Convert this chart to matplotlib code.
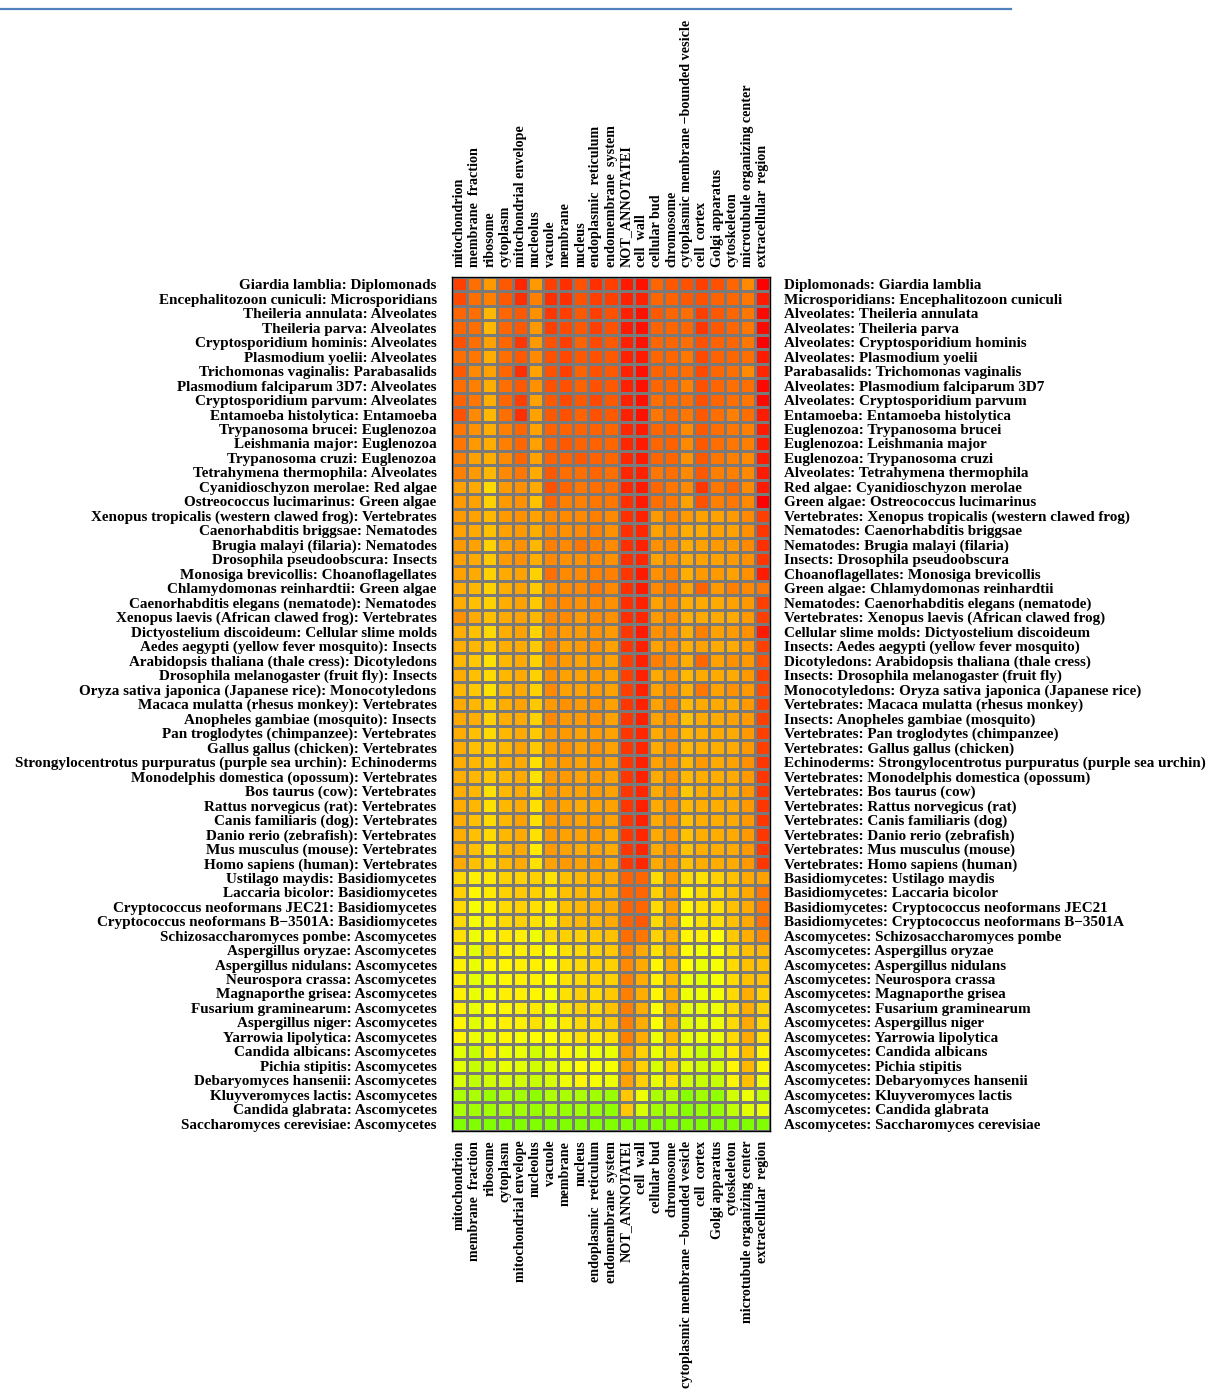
import numpy as np
import matplotlib.pyplot as plt
from matplotlib.colors import LinearSegmentedColormap
from matplotlib.lines import Line2D

plt.rcParams['font.family'] = ['Liberation Serif', 'DejaVu Serif']
plt.rcParams['font.weight'] = 'bold'

# --- dados ---
compartments = [
    "mitochondrion", "membrane  fraction", "ribosome", "cytoplasm",
    "mitochondrial envelope", "nucleolus", "vacuole", "membrane", "nucleus",
    "endoplasmic  reticulum", "endomembrane  system", "NOT_ANNOTATEI",
    "cell  wall", "cellular bud", "chromosome",
    "cytoplasmic membrane \u2212bounded vesicle", "cell  cortex",
    "Golgi apparatus", "cytoskeleton", "microtubule organizing center",
    "extracellular  region",
]

species = [
    "Giardia lamblia", "Encephalitozoon cuniculi", "Theileria annulata",
    "Theileria parva", "Cryptosporidium hominis", "Plasmodium yoelii",
    "Trichomonas vaginalis", "Plasmodium falciparum 3D7",
    "Cryptosporidium parvum", "Entamoeba histolytica", "Trypanosoma brucei",
    "Leishmania major", "Trypanosoma cruzi", "Tetrahymena thermophila",
    "Cyanidioschyzon merolae", "Ostreococcus lucimarinus",
    "Xenopus tropicalis (western clawed frog)", "Caenorhabditis briggsae",
    "Brugia malayi (filaria)", "Drosophila pseudoobscura",
    "Monosiga brevicollis", "Chlamydomonas reinhardtii",
    "Caenorhabditis elegans (nematode)", "Xenopus laevis (African clawed frog)",
    "Dictyostelium discoideum", "Aedes aegypti (yellow fever mosquito)",
    "Arabidopsis thaliana (thale cress)", "Drosophila melanogaster (fruit fly)",
    "Oryza sativa japonica (Japanese rice)", "Macaca mulatta (rhesus monkey)",
    "Anopheles gambiae (mosquito)", "Pan troglodytes (chimpanzee)",
    "Gallus gallus (chicken)",
    "Strongylocentrotus purpuratus (purple sea urchin)",
    "Monodelphis domestica (opossum)", "Bos taurus (cow)",
    "Rattus norvegicus (rat)", "Canis familiaris (dog)",
    "Danio rerio (zebrafish)", "Mus musculus (mouse)", "Homo sapiens (human)",
    "Ustilago maydis", "Laccaria bicolor", "Cryptococcus neoformans JEC21",
    "Cryptococcus neoformans B\u22123501A", "Schizosaccharomyces pombe",
    "Aspergillus oryzae", "Aspergillus nidulans", "Neurospora crassa",
    "Magnaporthe grisea", "Fusarium graminearum", "Aspergillus niger",
    "Yarrowia lipolytica", "Candida albicans", "Pichia stipitis",
    "Debaryomyces hansenii", "Kluyveromyces lactis", "Candida glabrata",
    "Saccharomyces cerevisiae",
]

groups = [
    "Diplomonads", "Microsporidians", "Alveolates", "Alveolates", "Alveolates",
    "Alveolates", "Parabasalids", "Alveolates", "Alveolates", "Entamoeba",
    "Euglenozoa", "Euglenozoa", "Euglenozoa", "Alveolates", "Red algae",
    "Green algae", "Vertebrates", "Nematodes", "Nematodes", "Insects",
    "Choanoflagellates", "Green algae", "Nematodes", "Vertebrates",
    "Cellular slime molds", "Insects", "Dicotyledons", "Insects",
    "Monocotyledons", "Vertebrates", "Insects", "Vertebrates", "Vertebrates",
    "Echinoderms", "Vertebrates", "Vertebrates", "Vertebrates", "Vertebrates",
    "Vertebrates", "Vertebrates", "Vertebrates", "Basidiomycetes",
    "Basidiomycetes", "Basidiomycetes", "Basidiomycetes", "Ascomycetes",
    "Ascomycetes", "Ascomycetes", "Ascomycetes", "Ascomycetes", "Ascomycetes",
    "Ascomycetes", "Ascomycetes", "Ascomycetes", "Ascomycetes", "Ascomycetes",
    "Ascomycetes", "Ascomycetes", "Ascomycetes",
]

# escala 0 (vermelho) .. 60 (amarelo) .. 90 (verde)
scores = [
    [15, 26, 36, 21, 9, 36, 15, 11, 19, 11, 15, 6, 4, 24, 21, 19, 15, 19, 24, 32, 0],
    [17, 26, 30, 21, 11, 30, 11, 11, 19, 15, 15, 8, 8, 24, 23, 21, 19, 23, 24, 28, 6],
    [24, 26, 43, 24, 21, 34, 13, 15, 21, 15, 19, 8, 4, 21, 24, 26, 15, 21, 24, 28, 2],
    [24, 26, 43, 24, 21, 36, 15, 17, 21, 15, 19, 6, 4, 23, 24, 24, 13, 21, 24, 28, 2],
    [19, 26, 38, 24, 13, 36, 19, 15, 23, 17, 21, 8, 4, 24, 24, 26, 19, 23, 24, 28, 0],
    [26, 28, 41, 26, 21, 32, 19, 17, 21, 19, 21, 8, 6, 24, 24, 28, 17, 23, 24, 26, 6],
    [21, 32, 38, 24, 11, 38, 19, 15, 23, 19, 21, 8, 4, 23, 24, 26, 17, 24, 26, 32, 9],
    [26, 30, 41, 26, 21, 34, 19, 19, 23, 19, 21, 8, 4, 24, 24, 30, 19, 24, 26, 26, 2],
    [23, 28, 41, 24, 15, 38, 21, 17, 21, 17, 21, 8, 4, 26, 24, 26, 19, 24, 26, 28, 2],
    [19, 32, 43, 26, 11, 38, 21, 19, 23, 19, 21, 8, 4, 28, 24, 28, 21, 26, 30, 26, 6],
    [28, 34, 41, 30, 24, 38, 23, 23, 23, 23, 24, 9, 6, 24, 23, 32, 21, 26, 28, 30, 6],
    [28, 36, 41, 30, 24, 38, 23, 21, 23, 23, 24, 9, 6, 24, 23, 32, 21, 26, 28, 30, 6],
    [30, 38, 41, 32, 24, 38, 23, 23, 21, 23, 24, 9, 6, 24, 24, 34, 21, 28, 30, 32, 6],
    [30, 36, 43, 32, 28, 40, 21, 26, 26, 24, 26, 9, 8, 28, 26, 32, 21, 30, 30, 32, 6],
    [38, 40, 51, 36, 34, 40, 19, 24, 28, 26, 26, 9, 6, 24, 28, 32, 13, 28, 24, 32, 6],
    [36, 38, 49, 36, 34, 45, 24, 30, 30, 28, 28, 11, 6, 26, 28, 38, 19, 30, 28, 32, 0],
    [36, 38, 43, 36, 34, 38, 32, 32, 32, 30, 32, 11, 8, 36, 30, 36, 38, 38, 36, 32, 15],
    [38, 40, 45, 38, 36, 41, 32, 34, 32, 30, 34, 11, 9, 38, 34, 41, 40, 38, 38, 34, 13],
    [36, 38, 49, 38, 34, 43, 30, 32, 28, 30, 32, 11, 8, 34, 32, 40, 38, 36, 36, 32, 11],
    [38, 40, 47, 36, 34, 41, 32, 34, 34, 32, 34, 11, 9, 38, 34, 40, 38, 38, 36, 34, 13],
    [38, 40, 49, 40, 38, 49, 26, 32, 32, 30, 30, 13, 6, 34, 30, 41, 36, 36, 38, 34, 6],
    [41, 43, 49, 41, 38, 47, 34, 32, 32, 28, 32, 11, 6, 32, 28, 38, 23, 36, 30, 32, 28],
    [41, 45, 49, 41, 38, 47, 32, 32, 34, 32, 34, 11, 8, 38, 32, 41, 40, 40, 38, 36, 15],
    [34, 40, 45, 40, 38, 43, 32, 32, 36, 32, 34, 11, 9, 36, 32, 41, 40, 40, 40, 36, 15],
    [41, 45, 51, 41, 38, 49, 34, 36, 36, 34, 36, 13, 6, 34, 32, 41, 30, 38, 36, 34, 6],
    [41, 43, 47, 41, 40, 47, 32, 38, 36, 34, 38, 13, 8, 38, 34, 41, 38, 40, 40, 36, 15],
    [43, 47, 53, 43, 40, 49, 34, 36, 38, 36, 38, 15, 8, 30, 32, 41, 24, 38, 34, 36, 19],
    [41, 45, 51, 43, 40, 49, 34, 38, 38, 36, 38, 15, 8, 40, 34, 43, 40, 40, 40, 36, 15],
    [43, 47, 53, 43, 40, 49, 32, 38, 38, 36, 38, 15, 8, 38, 32, 41, 28, 38, 34, 36, 17],
    [40, 43, 49, 41, 38, 47, 36, 34, 36, 34, 38, 13, 8, 38, 30, 43, 40, 40, 40, 36, 15],
    [40, 41, 49, 41, 40, 49, 32, 36, 36, 34, 38, 13, 8, 38, 34, 45, 40, 40, 38, 36, 15],
    [41, 45, 51, 43, 40, 47, 36, 36, 38, 36, 38, 13, 9, 40, 34, 43, 41, 40, 40, 36, 15],
    [41, 45, 47, 43, 38, 47, 36, 34, 38, 34, 38, 13, 9, 40, 34, 43, 41, 41, 40, 36, 15],
    [41, 43, 47, 41, 40, 53, 38, 36, 38, 36, 38, 13, 8, 38, 34, 43, 36, 40, 38, 34, 13],
    [41, 43, 47, 43, 40, 53, 36, 36, 38, 36, 38, 13, 8, 40, 34, 43, 41, 41, 40, 36, 13],
    [41, 43, 53, 43, 40, 49, 36, 38, 38, 36, 38, 13, 9, 40, 34, 47, 41, 41, 40, 36, 13],
    [41, 43, 53, 43, 40, 53, 36, 38, 40, 38, 38, 13, 8, 40, 34, 43, 41, 41, 40, 36, 13],
    [41, 45, 51, 43, 38, 53, 36, 36, 38, 36, 38, 13, 8, 40, 34, 45, 41, 41, 40, 36, 13],
    [41, 45, 51, 43, 40, 53, 36, 38, 38, 36, 40, 13, 9, 40, 34, 45, 41, 41, 40, 36, 13],
    [41, 45, 53, 43, 40, 55, 36, 38, 40, 38, 40, 13, 9, 40, 34, 45, 41, 41, 40, 36, 13],
    [40, 45, 51, 43, 40, 53, 38, 36, 38, 36, 40, 13, 9, 40, 34, 45, 41, 41, 40, 36, 13],
    [51, 56, 55, 49, 49, 49, 53, 45, 43, 41, 41, 23, 24, 51, 36, 51, 53, 49, 45, 40, 38],
    [49, 58, 55, 49, 47, 49, 53, 45, 43, 43, 41, 23, 24, 49, 36, 58, 51, 51, 45, 40, 28],
    [51, 62, 56, 51, 49, 53, 55, 45, 43, 41, 40, 23, 24, 51, 38, 58, 53, 53, 45, 40, 28],
    [51, 62, 56, 51, 49, 53, 55, 45, 43, 43, 40, 23, 21, 51, 38, 60, 53, 53, 45, 40, 26],
    [53, 64, 58, 55, 56, 64, 51, 49, 49, 47, 45, 26, 28, 49, 40, 58, 56, 60, 47, 41, 32],
    [56, 67, 51, 58, 56, 56, 60, 53, 51, 49, 47, 32, 40, 53, 41, 60, 62, 60, 51, 45, 43],
    [56, 65, 58, 58, 56, 56, 60, 53, 51, 49, 49, 32, 40, 58, 41, 60, 65, 62, 51, 45, 45],
    [56, 67, 64, 58, 56, 56, 60, 53, 51, 49, 49, 30, 41, 56, 43, 64, 67, 62, 51, 45, 45],
    [56, 65, 62, 56, 56, 58, 62, 53, 49, 51, 47, 30, 41, 58, 41, 64, 64, 62, 51, 41, 49],
    [56, 65, 60, 58, 56, 55, 64, 53, 49, 51, 45, 30, 41, 60, 41, 65, 65, 64, 51, 41, 49],
    [58, 67, 62, 56, 56, 53, 64, 55, 51, 51, 47, 30, 41, 60, 41, 67, 65, 64, 51, 40, 51],
    [58, 64, 65, 58, 62, 60, 60, 56, 53, 55, 53, 30, 41, 64, 43, 65, 64, 64, 51, 40, 53],
    [67, 73, 56, 65, 65, 71, 65, 58, 64, 64, 65, 38, 49, 65, 51, 67, 73, 69, 55, 45, 58],
    [67, 73, 71, 65, 67, 71, 67, 64, 60, 62, 62, 38, 49, 69, 49, 67, 71, 69, 58, 43, 58],
    [69, 75, 71, 69, 71, 73, 69, 64, 58, 62, 64, 38, 49, 65, 53, 71, 73, 73, 58, 45, 64],
    [80, 80, 84, 80, 82, 86, 79, 80, 80, 82, 84, 47, 64, 80, 77, 88, 82, 86, 71, 64, 75],
    [80, 82, 82, 80, 82, 84, 80, 84, 82, 84, 86, 47, 69, 82, 80, 88, 84, 84, 75, 67, 64],
    [90, 90, 90, 90, 90, 90, 90, 90, 90, 90, 90, 90, 90, 90, 90, 90, 90, 90, 90, 90, 90],
]

data = np.array(scores, dtype=float)
n_rows, n_cols = data.shape

# vermelho -> amarelo -> verde
cmap = LinearSegmentedColormap.from_list(
    "ryg", [(0.0, "#FF0000"), (2 / 3, "#FFFF00"), (1.0, "#80FF00")])

fig = plt.figure(figsize=(12.22, 13.93), dpi=100)
ax = fig.add_axes([452 / 1222, 1 - 1131 / 1393, 318 / 1222, 854 / 1393])

ax.pcolormesh(data, cmap=cmap, vmin=0, vmax=90,
              edgecolors="#7a7a7a", linewidth=0.75)
ax.set_xlim(0, n_cols)
ax.set_ylim(n_rows, 0)
for s in ax.spines.values():
    s.set_color("black")
    s.set_linewidth(1.0)

fs_rows = 10.9
fs_cols = 10.2
ax.set_xticks(np.arange(n_cols) + 0.5)
ax.set_xticklabels(compartments, rotation=90, fontsize=fs_cols)
ax.set_yticks(np.arange(n_rows) + 0.5)
ax.set_yticklabels([f"{s}: {g}" for s, g in zip(species, groups)],
                   fontsize=fs_rows)
ax.tick_params(axis="x", top=True, labeltop=True, bottom=True,
               labelbottom=True, length=0, pad=7)
ax.tick_params(axis="y", length=0, pad=11)

# rótulos do lado direito: grupo primeiro
ax2 = ax.twinx()
ax2.set_ylim(n_rows, 0)
ax2.set_yticks(np.arange(n_rows) + 0.5)
ax2.set_yticklabels([f"{g}: {s}" for s, g in zip(species, groups)],
                    fontsize=fs_rows)
ax2.tick_params(axis="y", length=0, pad=10)
for s in ax2.spines.values():
    s.set_visible(False)

# linha azul no topo da página
fig.add_artist(Line2D([0, 1011 / 1222], [1 - 8.5 / 1393] * 2,
                      color="#4F81BD", lw=1.6))

fig.savefig("out.png", dpi=100)
